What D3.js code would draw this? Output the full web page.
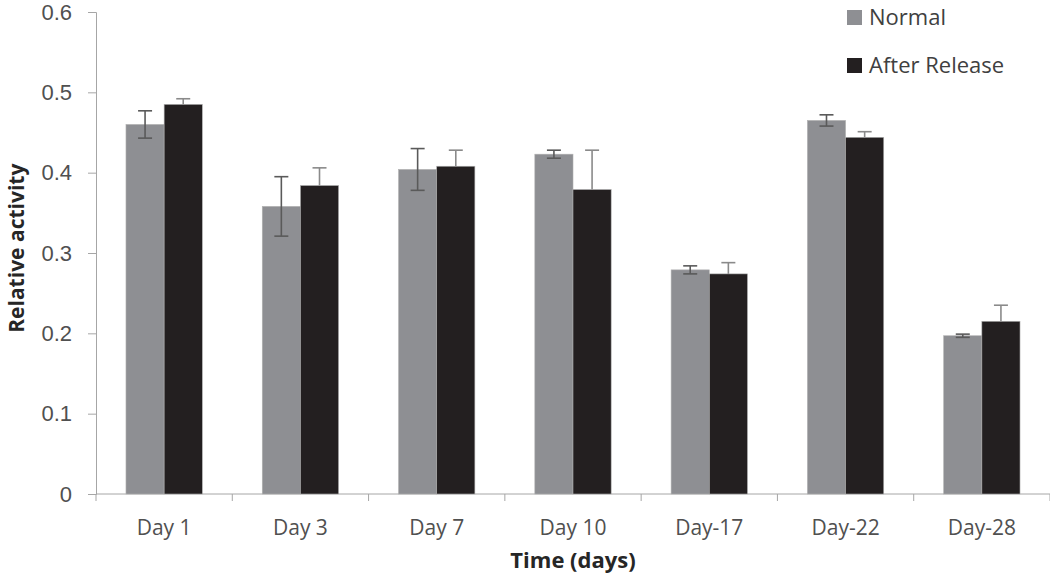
<!DOCTYPE html>
<html lang="en">
<head>
<meta charset="UTF-8">
<title>Relative activity</title>
<script src="https://d3js.org/d3.v7.min.js"></script>
<style>
    body { margin: 0; background: #fff; }
    svg { display: block; font-family: 'Open Sans', sans-serif; }
</style>
</head>
<body>
<div id="chart"></div>
<script>
    // values
    const days = ["Day 1", "Day 3", "Day 7", "Day 10", "Day-17", "Day-22", "Day-28"];
    const normal = [0.460, 0.358, 0.404, 0.423, 0.279, 0.465, 0.197];
    const normalErr = [0.017, 0.037, 0.026, 0.005, 0.005, 0.007, 0.002];
    const afterRelease = [0.485, 0.384, 0.408, 0.379, 0.274, 0.444, 0.215];
    const afterErr = [0.007, 0.022, 0.020, 0.049, 0.014, 0.007, 0.020];
    const yTicks = [0, 0.1, 0.2, 0.3, 0.4, 0.5, 0.6];
    const seriesNames = ["Normal", "After Release"];
    const colors = ["#8e8f93", "#231f20"];

    const width = 1050, height = 577;
    const margin = {top: 12, right: 0, bottom: 83, left: 96};

    const svg = d3.select("#chart").append("svg")
        .attr("width", width)
        .attr("height", height);

    const x = d3.scaleBand()
        .domain(days)
        .range([margin.left, width - margin.right])
        .paddingInner(0.44)
        .paddingOuter(0.22);

    const sub = d3.scaleBand()
        .domain(seriesNames)
        .range([0, x.bandwidth()]);

    const y = d3.scaleLinear()
        .domain([0, 0.6])
        .range([height - margin.bottom, margin.top]);

    const series = [
        {name: seriesNames[0], values: normal, err: normalErr},
        {name: seriesNames[1], values: afterRelease, err: afterErr}
    ];

    // axes
    const yAxis = svg.append("g")
        .attr("transform", `translate(${margin.left},0)`)
        .call(d3.axisLeft(y).tickValues(yTicks).tickSize(8).tickPadding(16)
            .tickFormat(d => d === 0 ? "0" : d3.format(".1f")(d)));
    yAxis.select(".domain").attr("stroke", "#a6a6a6");
    yAxis.selectAll(".tick line").attr("stroke", "#a6a6a6");
    yAxis.selectAll("text").attr("fill", "#505050").style("font-size", "22px");

    // x axis: ticks between categories
    const xAxisG = svg.append("g")
        .attr("transform", `translate(0,${y(0)})`);
    xAxisG.append("line")
        .attr("x1", margin.left).attr("x2", width)
        .attr("stroke", "#a6a6a6");
    const step = x.step();
    const bounds = d3.range(days.length + 1).map(i => x(days[0]) - x.paddingOuter() * step + i * step);
    xAxisG.selectAll(".sep").data(bounds).join("line")
        .attr("x1", d => d).attr("x2", d => d)
        .attr("y1", 0).attr("y2", 7)
        .attr("stroke", "#a6a6a6");
    xAxisG.selectAll(".lbl").data(days).join("text")
        .attr("x", d => x(d) + x.bandwidth() / 2)
        .attr("y", 41)
        .attr("text-anchor", "middle")
        .attr("fill", "#505050")
        .style("font-size", "21px")
        .text(d => d);

    // bars
    const groups = svg.selectAll(".series").data(series).join("g")
        .attr("fill", (d, i) => colors[i]);

    groups.selectAll("rect")
        .data(s => s.values.map((v, i) => ({name: s.name, day: days[i], v})))
        .join("rect")
        .attr("x", d => x(d.day) + sub(d.name))
        .attr("width", sub.bandwidth())
        .attr("y", d => y(d.v))
        .attr("height", d => y(0) - y(d.v))
        .attr("stroke", "#b0b0b0")
        .attr("stroke-width", 0.6);

    // error bars (the lower half of the After Release bars is hidden by the dark bar)
    const errs = series.flatMap(s => s.values.map((v, i) => ({name: s.name, day: days[i], v, e: s.err[i]})));
    const cx = d => x(d.day) + sub(d.name) + sub.bandwidth() / 2;
    const isAfter = d => d.name === seriesNames[1];
    const eg = svg.append("g").attr("stroke-width", 1.6);
    eg.selectAll(".stem").data(errs).join("line")
        .attr("x1", cx).attr("x2", cx)
        .attr("y1", d => y(d.v + d.e))
        .attr("y2", d => isAfter(d) ? y(d.v) : y(d.v - d.e))
        .attr("stroke", d => isAfter(d) ? "#8a8a8a" : "#5a5a5a");
    eg.selectAll(".capTop").data(errs).join("line")
        .attr("x1", d => cx(d) - 7).attr("x2", d => cx(d) + 7)
        .attr("y1", d => y(d.v + d.e)).attr("y2", d => y(d.v + d.e))
        .attr("stroke", d => isAfter(d) ? "#8a8a8a" : "#5a5a5a");
    eg.selectAll(".capBot").data(errs.filter(d => !isAfter(d))).join("line")
        .attr("x1", d => cx(d) - 7).attr("x2", d => cx(d) + 7)
        .attr("y1", d => y(d.v - d.e)).attr("y2", d => y(d.v - d.e))
        .attr("stroke", "#5a5a5a");

    // axis titles
    svg.append("text")
        .attr("x", x("Day 10") + x.bandwidth() / 2).attr("y", 568)
        .attr("text-anchor", "middle")
        .attr("fill", "#262626")
        .style("font-size", "22px").style("font-weight", "bold")
        .text("Time (days)");
    svg.append("text")
        .attr("transform", `translate(24,${y(0.306)}) rotate(-90)`)
        .attr("text-anchor", "middle")
        .attr("fill", "#262626")
        .style("font-size", "21px").style("font-weight", "bold")
        .text("Relative activity");

    // legend
    const legend = svg.append("g").attr("transform", "translate(847,10)");
    const li = legend.selectAll("g").data(seriesNames).join("g")
        .attr("transform", (d, i) => `translate(0,${i * 48})`);
    li.append("rect").attr("width", 15).attr("height", 15)
        .attr("fill", (d, i) => colors[i]);
    li.append("text").attr("x", 22).attr("y", 15)
        .attr("fill", "#404040")
        .style("font-size", "22px")
        .text(d => d);
</script>
</body>
</html>
